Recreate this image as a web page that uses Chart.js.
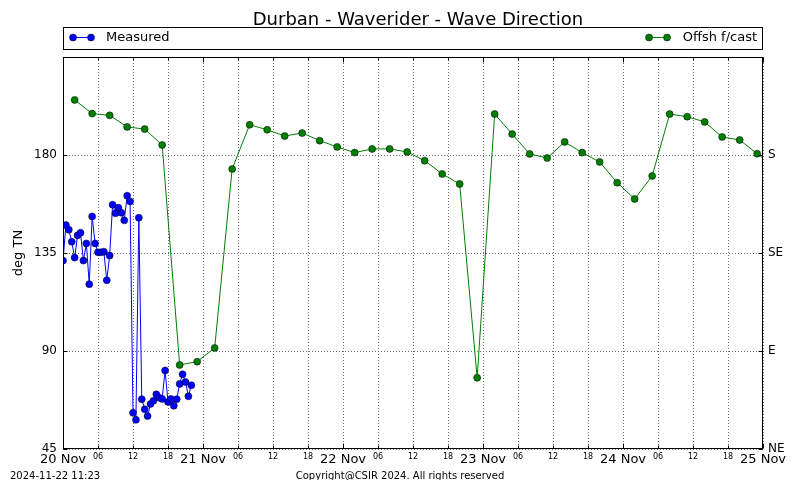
<!DOCTYPE html>
<html><head><meta charset="utf-8">
<script src="https://cdn.jsdelivr.net/npm/chart.js@4.4.1/dist/chart.umd.min.js"></script>
<style>html,body{margin:0;padding:0;background:#fff}#wrap{width:800px;height:480px;position:relative}</style>
</head><body><div id="wrap"><canvas id="c" width="800" height="480"></canvas></div>
<script>
const chartTitle = 'Durban - Waverider - Wave Direction';
const yAxisTitle = 'deg TN';
const stampText = '2024-11-22 11:23';
const copyrightText = 'Copyright@CSIR 2024. All rights reserved';
const seriesNames = ['Measured', 'Offsh f/cast'];

// hours after 20 Nov 00:00
const measuredHours = [0,0.5,1,1.5,2,2.5,3,3.5,4,4.5,5,5.5,6,6.5,7,7.5,8,8.5,9,9.5,10,10.5,11,11.5,12,12.5,13,13.5,14,14.5,15,15.5,16,16.5,17,17.5,18,18.5,19,19.5,20,20.5,21,21.5,22];
const measuredValues = [131.5,147.8,145.7,140.2,132.9,143.1,144.3,131.5,139.4,120.7,
  151.8,139.4,135.3,135.3,135.6,122.5,133.8,157.2,153.2,155.8,
  153.5,150.0,161.3,158.7,61.6,58.4,151.2,67.9,63.3,60.1,
  65.7,67.1,70.1,68.5,68.0,81.1,66.6,68.0,64.9,67.9,
  74.9,79.3,75.8,69.2,74.3];

const forecastHours = [2,5,8,11,14,17,20,23,26,29,32,35,38,41,44,47,50,53,56,59,62,65,68,71,74,77,80,83,86,89,92,95,98,101,104,107,110,113,116,119,122];
const forecastValues = [205.3,199.0,198.2,192.9,191.9,184.6,83.6,85.1,91.4,173.6,
  193.9,191.6,188.7,190.1,186.6,183.7,181.1,182.8,182.8,181.4,
  177.4,171.3,166.7,77.7,198.8,189.6,180.5,178.6,186.0,181.1,
  176.8,167.3,159.8,170.4,198.8,197.6,195.2,188.3,186.9,180.6,174.5];

const dayLabels = ['20 Nov','21 Nov','22 Nov','23 Nov','24 Nov','25 Nov'];
const hourLabels = ['', '06', '12', '18'];
const degTicks = [45, 90, 135, 180, 225];
const compassLabels = ['NE', 'E', 'SE', 'S', ''];

const FONT = 'DejaVu Sans';
const BLUE = '#0000ff', GREEN = '#007f00';

const toXY = (xs, ys) => xs.map((x, i) => ({x, y: ys[i]}));

const decor = {
  id: 'decor',
  afterDraw(chart) {
    const {ctx, chartArea: a, scales} = chart;
    ctx.save();
    // frame
    ctx.strokeStyle = '#000'; ctx.lineWidth = 1; ctx.setLineDash([]);
    const L = Math.round(a.left) + 0.5, R = Math.round(a.right) - 0.5;
    const T = Math.round(a.top) + 0.5, B = Math.round(a.bottom) - 0.5;
    ctx.strokeRect(L, T, R - L, B - T);
    // inward ticks
    ctx.beginPath();
    scales.x.ticks.forEach(t => {
      const px = Math.round(scales.x.getPixelForValue(t.value)) + 0.5;
      const len = (t.value % 24 === 0) ? 5 : 3;
      ctx.moveTo(px, B); ctx.lineTo(px, B - len);
      ctx.moveTo(px, T); ctx.lineTo(px, T + len);
    });
    scales.y.ticks.forEach(t => {
      const py = Math.round(scales.y.getPixelForValue(t.value)) + 0.5;
      ctx.moveTo(L, py); ctx.lineTo(L + 4, py);
      ctx.moveTo(R, py); ctx.lineTo(R - 4, py);
    });
    ctx.stroke();
    // title
    ctx.fillStyle = '#000';
    ctx.font = '18px "' + FONT + '"';
    ctx.textAlign = 'center'; ctx.textBaseline = 'alphabetic';
    ctx.fillText(chartTitle, 418, 25);
    // legend box
    ctx.strokeRect(63.5, 27.5, 699, 22);
    const drawKey = (x1, x2, y, col) => {
      ctx.strokeStyle = col; ctx.lineWidth = 1;
      ctx.beginPath(); ctx.moveTo(x1, y); ctx.lineTo(x2, y); ctx.stroke();
      [x1, x2].forEach(x => {
        ctx.beginPath(); ctx.arc(x, y, 3.5, 0, Math.PI * 2);
        ctx.fillStyle = col; ctx.fill();
        ctx.lineWidth = 0.5; ctx.strokeStyle = '#000'; ctx.stroke();
        ctx.strokeStyle = col; ctx.lineWidth = 1;
      });
    };
    drawKey(73, 91, 37.5, BLUE);
    drawKey(649, 667, 37.5, GREEN);
    ctx.fillStyle = '#000';
    ctx.font = '13px "' + FONT + '"';
    ctx.textAlign = 'left'; ctx.textBaseline = 'middle';
    ctx.fillText(seriesNames[0], 106, 37.5);
    ctx.textAlign = 'right';
    ctx.fillText(seriesNames[1], 757, 37.5);
    // footer
    ctx.font = '10px "' + FONT + '"';
    ctx.textBaseline = 'alphabetic';
    ctx.textAlign = 'left';
    ctx.fillText(stampText, 10, 479);
    ctx.textAlign = 'center';
    ctx.fillText(copyrightText, 400, 479);
    ctx.restore();
  }
};

const gridCommon = {color: '#6e6e6e', lineWidth: 1, drawTicks: false};

new Chart(document.getElementById('c'), {
  type: 'line',
  data: {
    datasets: [
      {label: seriesNames[0], data: toXY(measuredHours, measuredValues),
        borderColor: BLUE, backgroundColor: BLUE, pointBackgroundColor: BLUE,
        pointBorderColor: '#000', pointBorderWidth: 0.5, pointRadius: 3.5,
        borderWidth: 1, tension: 0, clip: 0, yAxisID: 'y'},
      {label: seriesNames[1], data: toXY(forecastHours, forecastValues),
        borderColor: GREEN, backgroundColor: GREEN, pointBackgroundColor: GREEN,
        pointBorderColor: '#000', pointBorderWidth: 0.5, pointRadius: 3.5,
        borderWidth: 1, tension: 0, clip: 0, yAxisID: 'y'}
    ]
  },
  options: {
    responsive: false, animation: false, devicePixelRatio: 1,
    layout: {padding: {top: 57, left: 0, right: 0, bottom: 0}},
    plugins: {legend: {display: false}, title: {display: false}, tooltip: {enabled: false}},
    scales: {
      x: {
        type: 'linear', min: 0, max: 120,
        grid: gridCommon,
        border: {display: false, dash: [1, 2]},
        afterFit: s => { s.height = 31; },
        ticks: {
          stepSize: 6, autoSkip: false, maxRotation: 0, padding: 3, color: '#000',
          callback: v => (v % 24 === 0) ? dayLabels[v / 24] : hourLabels[(v % 24) / 6],
          font: ctx => (ctx.tick && ctx.tick.value % 24 === 0)
            ? {family: FONT, size: 13} : {family: FONT, size: 8}
        }
      },
      y: {
        position: 'left', min: 45, max: 225,
        grid: gridCommon,
        border: {display: false, dash: [1, 2]},
        afterFit: s => { s.width = 63; },
        title: {display: true, text: yAxisTitle, color: '#000', font: {family: FONT, size: 13}, padding: {top: 11, bottom: 0}},
        afterBuildTicks: s => { s.ticks = degTicks.map(v => ({value: v})); },
        ticks: {
          padding: 6, color: '#000', font: {family: FONT, size: 12},
          callback: v => (v === 225 ? '' : String(v))
        }
      },
      y2: {
        position: 'right', min: 45, max: 225,
        grid: {drawOnChartArea: false, drawTicks: false},
        border: {display: false},
        afterFit: s => { s.width = 37; },
        afterBuildTicks: s => { s.ticks = degTicks.map(v => ({value: v})); },
        ticks: {
          padding: 5, color: '#000', font: {family: FONT, size: 12},
          callback: (v) => compassLabels[degTicks.indexOf(v)]
        }
      }
    }
  },
  plugins: [decor]
});
</script>
</body></html>
